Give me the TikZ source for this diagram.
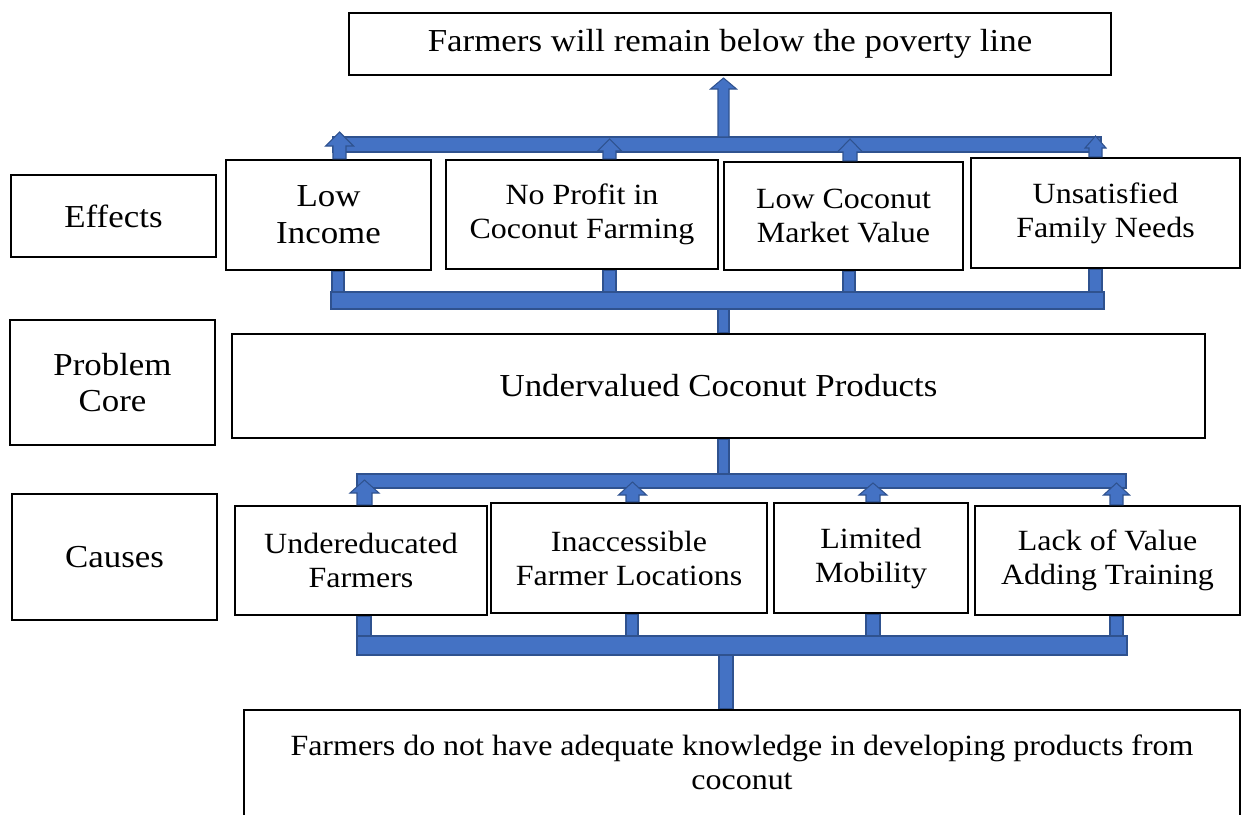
\documentclass[tikz,border=0pt]{standalone}
\usepackage{fontspec}
\setmainfont{Liberation Serif}[FakeStretch=1.09]
\definecolor{barfill}{HTML}{4472C4}
\definecolor{baredge}{HTML}{2F528F}
\tikzset{
  box/.style={draw=black, line width=1.6pt, fill=white, inner sep=0pt,
              align=center, font=\fontsize{24}{27.5}\selectfont},
  small/.style={font=\fontsize{22}{25.5}\selectfont},
  sz/.style 2 args={minimum width=#1*0.75pt, minimum height=#2*0.75pt},
  boxtext/.style={inner sep=0pt, align=center},
  bar/.style={fill=barfill, draw=baredge, line width=0.8pt},
}
% block arrow pointing up: #1 centre x, #2 foot (node anchor), #3 tip y,
% #4 shaft half width, #5 head half width, #6 head length
\newcommand\blockup[6]{%
  \filldraw[bar] (#1-#4,0 |- #2) -- (#1-#4,#3+#6) -- (#1-#5,#3+#6) -- (#1,#3)
    -- (#1+#5,#3+#6) -- (#1+#4,#3+#6) -- (#1+#4,0 |- #2) -- cycle;}
% vertical stem: #1 centre x, #2 half width, #3 top point, #4 bottom point
\newcommand\stem[4]{%
  \filldraw[bar] (#1-#2,0 |- #3) rectangle (#1+#2,0 |- #4);}
\begin{document}
\begin{tikzpicture}[x=0.75pt,y=-0.75pt]
\useasboundingbox (0,0) rectangle (1241,814);
\clip (0,0) rectangle (1241,814);

% row labels
\node[box, sz={205}{82}] (effects) at (113.5,216) {Effects};
\node[box, sz={205}{125}] (problem) at (112.5,382.5) {Problem\\Core};
\node[box, sz={205}{126}] (causes) at (114.5,557) {Causes};

% outcome
\node[box, sz={762}{62}] (poverty) at (730,44) {Farmers will remain below the poverty line};

% effects
\node[box, sz={205}{110}] (lowinc) at (328.5,215) {Low\\Income};
\node[box, small, sz={272}{109}] (noprofit) at (582,214.5) {No Profit in\\Coconut Farming};
\node[box, small, sz={239}{108}] (lowval) at (843.5,216) {Low Coconut\\Market Value};
\node[box, small, sz={269}{110}] (unsat) at (1105.5,213) {Unsatisfied\\Family Needs};

% core problem
\node[box, sz={973}{104}] (core) at (718.5,386) {Undervalued Coconut Products};

% causes
\node[box, small, sz={252}{109}] (undered) at (361,560.5) {Undereducated\\Farmers};
\node[box, small, sz={276}{110}] (inacc) at (629,558) {Inaccessible\\Farmer Locations};
\node[box, small, sz={194}{110}] (limited) at (871,558) {Limited\\Mobility};
\node[box, small, sz={265}{109}] (lack) at (1107.5,560.5) {Lack of Value\\Adding Training};

% root cause
\node[box, sz={996}{120}] (root) at (742,770) {};
\node[boxtext, small] (roottext) at (742,762)
  {Farmers do not have adequate knowledge in developing products from\\coconut};

% bus bars
\coordinate (etopL) at (333,137);   \coordinate (etopR) at (1101,152);
\coordinate (ebotL) at (331,292);   \coordinate (ebotR) at (1104,309);
\coordinate (ctopL) at (357,474);   \coordinate (ctopR) at (1126,488);
\coordinate (cbotL) at (357,636);   \coordinate (cbotR) at (1127,655);

% effects -> poverty
\filldraw[bar] (etopL) rectangle (etopR);
\blockup{339.5}{lowinc.north}{132}{6.5}{14}{14}
\blockup{609.5}{noprofit.north}{139}{6.5}{12}{12}
\blockup{850}{lowval.north}{139}{7}{12.5}{13}
\blockup{1095.5}{unsat.north}{136}{6.5}{10.5}{12}
\blockup{723.5}{etopL}{78}{5.5}{13}{11}

% core -> effects
\stem{338}{6}{lowinc.south}{ebotL}
\stem{609.5}{6.5}{noprofit.south}{ebotL}
\stem{849}{6}{lowval.south}{ebotL}
\stem{1095.5}{6.5}{unsat.south}{ebotL}
\filldraw[bar] (ebotL) rectangle (ebotR);
\stem{723.5}{5.5}{ebotR}{core.north}

% causes -> core
\stem{723.5}{5.5}{core.south}{ctopL}
\filldraw[bar] (ctopL) rectangle (ctopR);
\blockup{364.5}{undered.north}{480}{7.5}{14.5}{13}
\blockup{632.5}{inacc.north}{482}{6.5}{14}{13}
\blockup{873}{limited.north}{483}{7}{14}{12}
\blockup{1116.5}{lack.north}{483}{6.5}{13}{12}

% root -> causes
\stem{364}{7}{undered.south}{cbotL}
\stem{632}{6}{inacc.south}{cbotL}
\stem{873}{7}{limited.south}{cbotL}
\stem{1116.5}{6.5}{lack.south}{cbotL}
\filldraw[bar] (cbotL) rectangle (cbotR);
\stem{726}{7}{cbotR}{root.north}
\end{tikzpicture}
\end{document}
